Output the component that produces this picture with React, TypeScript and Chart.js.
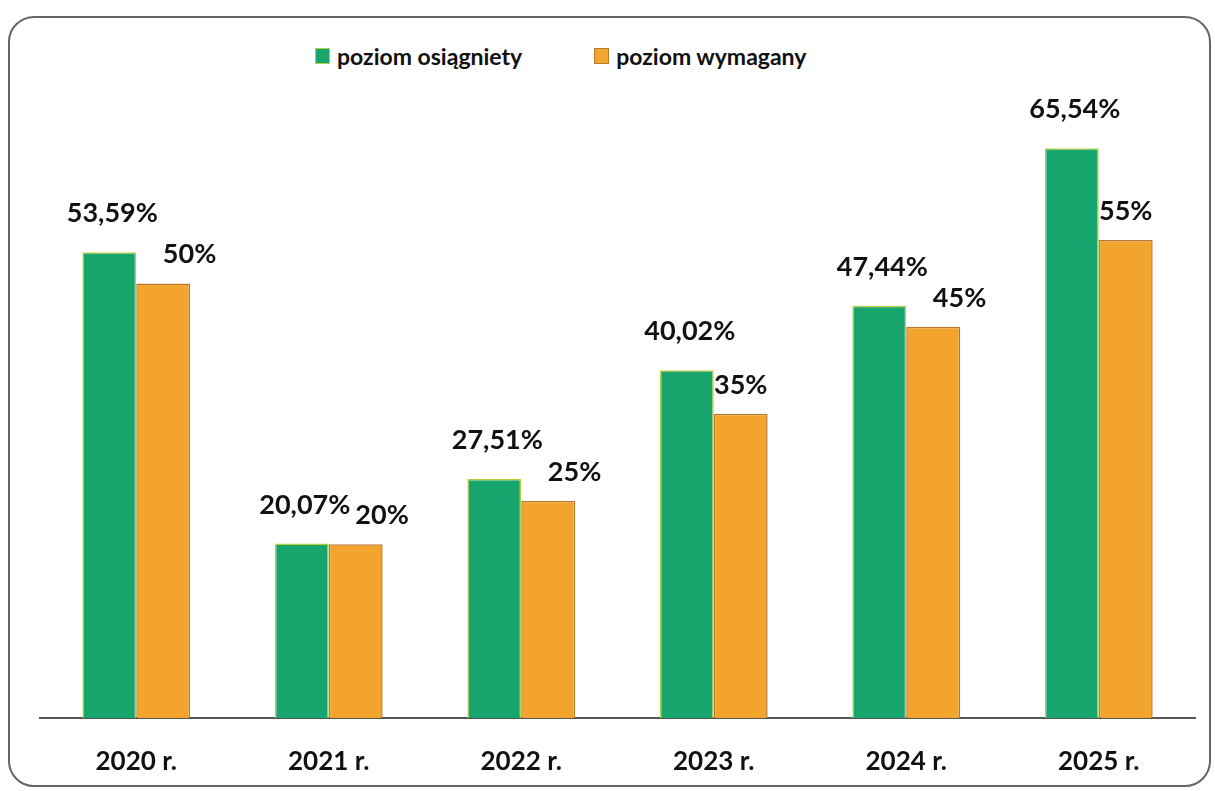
import React, { useEffect, useRef } from "react";
import { Chart, registerables } from "chart.js";

Chart.register(...registerables);

const categories = ["2020 r.", "2021 r.", "2022 r.", "2023 r.", "2024 r.", "2025 r."];
const achievedValues = [53.59, 20.07, 27.51, 40.02, 47.44, 65.54];
const requiredValues = [50, 20, 25, 35, 45, 55];
const seriesNames = ["poziom osiągniety", "poziom wymagany"];

const GREEN = "#17a46d";
const ORANGE = "#f3a42c";
const FONT = "Lato, 'Open Sans', sans-serif";

const fmt = (v: number) => v.toLocaleString("pl-PL", { maximumFractionDigits: 2 }) + "%";

const valueLabels = {
  id: "valueLabels",
  afterDatasetsDraw(chart: any) {
    const ctx = chart.ctx;
    const g = chart.getDatasetMeta(0);
    const o = chart.getDatasetMeta(1);
    ctx.save();
    ctx.font = `bold 27px ${FONT}`;
    ctx.fillStyle = "#111";
    ctx.textBaseline = "alphabetic";
    ctx.textAlign = "center";
    g.data.forEach((bar: any, i: number) => {
      const ob = o.data[i];
      const gText = fmt(achievedValues[i]);
      const oText = fmt(requiredValues[i]);
      const gw = ctx.measureText(gText).width;
      const ow = ctx.measureText(oText).width;
      const gx = bar.x + 3;
      const gy = bar.y - 30;
      let ox = ob.x;
      const oy = ob.y - 20;
      if (Math.abs(oy - gy) < 45) {
        ox = Math.max(ox, gx + gw / 2 + 5 + ow / 2);
      }
      ctx.fillText(gText, gx, gy);
      ctx.fillText(oText, ox, oy);
    });
    ctx.restore();
  },
};

export default function App() {
  const ref = useRef<HTMLCanvasElement>(null);
  useEffect(() => {
    if (!ref.current) return;
    const chart = new Chart(ref.current, {
      type: "bar",
      data: {
        labels: categories,
        datasets: [
          {
            label: seriesNames[0],
            data: achievedValues,
            backgroundColor: GREEN,
            borderColor: "#b4cf3e",
            borderWidth: 1.5,
            categoryPercentage: 0.56,
            barPercentage: 1,
          },
          {
            label: seriesNames[1],
            data: requiredValues,
            backgroundColor: ORANGE,
            borderColor: "#b87a30",
            borderWidth: 1.5,
            categoryPercentage: 0.56,
            barPercentage: 1,
          },
        ],
      },
      options: {
        animation: false,
        responsive: false,
        maintainAspectRatio: false,
        layout: { padding: { left: 40, right: 20, top: 80, bottom: 0 } },
        plugins: { legend: { display: false }, tooltip: { enabled: false } },
        scales: {
          x: {
            grid: { display: false, drawTicks: false },
            border: { display: true, color: "#555", width: 2 },
            ticks: { color: "#111", font: { family: FONT, weight: "bold", size: 26 }, padding: 28 },
            afterFit: (s: any) => {
              s.height = 73;
            },
          },
          y: { display: false, min: 0, max: 73.4 },
        },
      },
      plugins: [valueLabels],
    });
    return () => chart.destroy();
  }, []);

  const legendItem = (color: string, text: string, border: string) => (
    <div style={{ display: "flex", alignItems: "center" }}>
      <span style={{ width: 13, height: 14, background: color, border: `1px solid ${border}`, marginRight: 7 }} />
      <span>{text}</span>
    </div>
  );

  return (
    <div style={{ position: "fixed", left: 0, top: 0, width: 1215, height: 791, background: "#fff", overflow: "hidden" }}>
      <div
        style={{
          position: "absolute",
          left: 8,
          top: 16,
          width: 1203,
          height: 771,
          border: "2px solid #666",
          borderRadius: 26,
          boxSizing: "border-box",
        }}
      />
      <div
        style={{
          position: "absolute",
          left: 315,
          top: 40,
          display: "flex",
          gap: 72,
          fontFamily: FONT,
          fontWeight: "bold",
          fontSize: 23,
          color: "#111",
          lineHeight: "32px",
        }}
      >
        {legendItem(GREEN, seriesNames[0], "#b4cf3e")}
        {legendItem(ORANGE, seriesNames[1], "#b87a30")}
      </div>
      <canvas ref={ref} width={1215} height={791} style={{ position: "absolute", left: 0, top: 0, width: 1215, height: 791 }} />
    </div>
  );
}
